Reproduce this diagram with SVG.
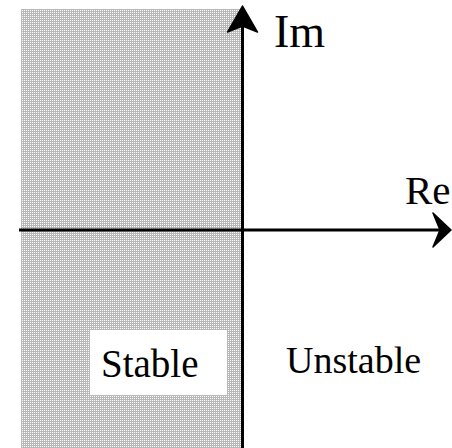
<svg xmlns="http://www.w3.org/2000/svg" width="452" height="448" viewBox="0 0 452 448">
  <style>
    .lbl { font-family: "Liberation Serif", "Times New Roman", serif; fill: #000; }
    .axis { stroke: #000; stroke-width: 3; fill: none; }
    .head { fill: #000; stroke: #000; stroke-width: 1.5; stroke-linejoin: round; }
  </style>
  <defs>
    <pattern id="dots" x="0" y="0" width="2" height="2" patternUnits="userSpaceOnUse">
      <rect width="2" height="2" fill="#b8b8b8"/>
      <rect width="1" height="1" fill="#ffffff"/>
    </pattern>
  </defs>
  <rect width="452" height="448" fill="#ffffff"/>
  <g id="stable-region">
    <rect x="21" y="9" width="221" height="439" fill="url(#dots)"/>
    <rect x="90" y="330" width="137" height="65" fill="#ffffff"/>
    <text class="lbl" x="101" y="377" font-size="39">Stable</text>
  </g>
  <g id="unstable-region">
    <text class="lbl" x="286" y="373" font-size="38">Unstable</text>
  </g>
  <g id="connectors">
    <line class="axis" x1="242.5" y1="24" x2="242.5" y2="448"/>
    <path class="head" d="M242.5,6 L257.5,32 L242.5,26 L227.5,32 Z"/>
    <line class="axis" x1="19" y1="230" x2="440" y2="230"/>
    <path class="head" d="M451,230 L433,247 L440,230 L433,213 Z"/>
  </g>
  <g id="labels">
    <text class="lbl" x="405" y="204" font-size="41">Re</text>
    <text class="lbl" x="274" y="47" font-size="46">Im</text>
  </g>
</svg>
